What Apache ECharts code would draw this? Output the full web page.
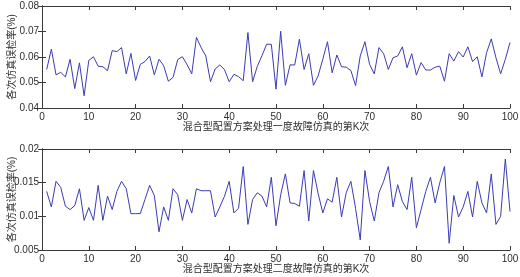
<!DOCTYPE html>
<html>
<head>
<meta charset="utf-8">
<script src="https://cdn.jsdelivr.net/npm/echarts@6/dist/echarts.min.js"></script>
<style>
html,body{margin:0;padding:0;background:#fff;}
#c{width:520px;height:277px;}
</style>
</head>
<body>
<div id="c"></div>
<script>
// Simulation run index (x values)
const runs = Array.from({length: 100}, (_, i) => i + 1);

// Top plot: first-degree fault, false detection rate (%)
const rateDegree1 = [
  0.0551,0.0631,0.0530,0.0540,0.0522,0.0591,0.0476,0.0577,0.0448,0.0587,
  0.0601,0.0564,0.0562,0.0546,0.0625,0.0621,0.0637,0.0534,0.0614,0.0508,
  0.0571,0.0582,0.0604,0.0530,0.0591,0.0566,0.0505,0.0520,0.0590,0.0601,
  0.0570,0.0534,0.0677,0.0637,0.0604,0.0503,0.0553,0.0569,0.0550,0.0503,
  0.0532,0.0523,0.0507,0.0696,0.0503,0.0563,0.0605,0.0650,0.0650,0.0474,
  0.0701,0.0489,0.0569,0.0569,0.0670,0.0551,0.0613,0.0489,0.0526,0.0591,
  0.0660,0.0538,0.0608,0.0562,0.0560,0.0547,0.0488,0.0604,0.0660,0.0571,
  0.0534,0.0637,0.0613,0.0551,0.0597,0.0604,0.0640,0.0558,0.0613,0.0529,
  0.0578,0.0549,0.0549,0.0560,0.0564,0.0505,0.0613,0.0584,0.0621,0.0600,
  0.0640,0.0582,0.0601,0.0522,0.0617,0.0671,0.0597,0.0534,0.0591,0.0657
];

// Bottom plot: second-degree fault, false detection rate (%)
const rateDegree2 = [
  0.0137,0.0114,0.0152,0.0143,0.0115,0.0110,0.0116,0.0141,0.0094,0.0113,
  0.0094,0.0146,0.0094,0.0130,0.0110,0.0137,0.0152,0.0141,0.0104,0.0104,
  0.0104,0.0125,0.0146,0.0131,0.0077,0.0114,0.0094,0.0141,0.0132,0.0094,
  0.0125,0.0105,0.0141,0.0138,0.0138,0.0138,0.0099,0.0114,0.0130,0.0152,
  0.0105,0.0112,0.0174,0.0088,0.0125,0.0135,0.0130,0.0114,0.0158,0.0086,
  0.0132,0.0163,0.0120,0.0119,0.0115,0.0168,0.0093,0.0168,0.0134,0.0105,
  0.0126,0.0121,0.0158,0.0099,0.0135,0.0152,0.0112,0.0065,0.0168,0.0122,
  0.0093,0.0135,0.0152,0.0174,0.0114,0.0147,0.0122,0.0110,0.0158,0.0083,
  0.0110,0.0137,0.0158,0.0120,0.0150,0.0174,0.0060,0.0131,0.0099,0.0114,
  0.0137,0.0099,0.0152,0.0120,0.0105,0.0163,0.0088,0.0100,0.0185,0.0107
];

// Tick labels
const xTickLabels = ['0','10','20','30','40','50','60','70','80','90','100'];
const yTickLabelsTop = ['0.04','0.05','0.06','0.07','0.08'];
const yTickLabelsBottom = ['0.005','0.01','0.015','0.02'];

// Texts
const xTitleTop = '混合型配置方案处理一度故障仿真的第K次';
const xTitleBottom = '混合型配置方案处理二度故障仿真的第K次';
const yTitle = '各次仿真误检率(%)';

const FONT = '"Liberation Sans", Arial, "Noto Sans CJK SC", sans-serif';
const AXIS_COLOR = '#3a3a3a';
const TEXT_COLOR = '#2e2e2e';
const LINE_COLOR = '#3c3cb4';

function pairs(ys) { return runs.map((x, i) => [x, ys[i]]); }

function xAxisMain(gi, title) {
  return {
    type: 'value', gridIndex: gi, min: 0, max: 100, interval: 10, position: 'bottom',
    axisLine: {show: true, lineStyle: {color: AXIS_COLOR, width: 1}},
    axisTick: {show: true, inside: true, length: 4, lineStyle: {color: AXIS_COLOR}},
    splitLine: {show: false},
    axisLabel: {color: TEXT_COLOR, fontSize: 10, fontFamily: FONT, margin: 4,
      formatter: v => xTickLabels[Math.round(v / 10)]},
    name: title, nameLocation: 'middle', nameGap: 14, nameMoveOverlap: false,
    nameTextStyle: {color: TEXT_COLOR, fontSize: 10, fontFamily: FONT}
  };
}
function xAxisTop(gi) {
  return {
    type: 'value', gridIndex: gi, min: 0, max: 100, interval: 10, position: 'top',
    axisLine: {show: true, lineStyle: {color: AXIS_COLOR, width: 1}},
    axisTick: {show: true, inside: true, length: 4, lineStyle: {color: AXIS_COLOR}},
    splitLine: {show: false}, axisLabel: {show: false}
  };
}
function yAxisMain(gi, min, max, interval, labels) {
  return {
    type: 'value', gridIndex: gi, min: min, max: max, interval: interval, position: 'left',
    axisLine: {show: true, lineStyle: {color: AXIS_COLOR, width: 1}},
    axisTick: {show: true, inside: true, length: 4, lineStyle: {color: AXIS_COLOR}},
    splitLine: {show: false},
    axisLabel: {color: TEXT_COLOR, fontSize: 10, fontFamily: FONT, margin: 3,
      formatter: v => labels[Math.round((v - min) / interval)]},
    name: yTitle, nameLocation: 'middle', nameGap: 25, nameRotate: 90, nameMoveOverlap: false,
    nameTextStyle: {color: TEXT_COLOR, fontSize: 10, fontFamily: FONT}
  };
}
function yAxisRight(gi, min, max, interval) {
  return {
    type: 'value', gridIndex: gi, min: min, max: max, interval: interval, position: 'right',
    axisLine: {show: true, lineStyle: {color: AXIS_COLOR, width: 1}},
    axisTick: {show: true, inside: true, length: 4, lineStyle: {color: AXIS_COLOR}},
    splitLine: {show: false}, axisLabel: {show: false}
  };
}

const chart = echarts.init(document.getElementById('c'), null, {renderer: 'canvas'});
chart.setOption({
  backgroundColor: '#ffffff',
  animation: false,
  grid: [
    {left: 42, top: 6, width: 468, height: 102, containLabel: false, outerBoundsMode: 'none'},
    {left: 42, top: 149, width: 468, height: 101, containLabel: false, outerBoundsMode: 'none'}
  ],
  xAxis: [xAxisMain(0, xTitleTop), xAxisTop(0), xAxisMain(1, xTitleBottom), xAxisTop(1)],
  yAxis: [
    yAxisMain(0, 0.04, 0.08, 0.01, yTickLabelsTop), yAxisRight(0, 0.04, 0.08, 0.01),
    yAxisMain(1, 0.005, 0.02, 0.005, yTickLabelsBottom), yAxisRight(1, 0.005, 0.02, 0.005)
  ],
  series: [
    {type: 'line', xAxisIndex: 0, yAxisIndex: 0, data: pairs(rateDegree1), symbol: 'none',
     lineStyle: {color: LINE_COLOR, width: 1}},
    {type: 'line', xAxisIndex: 2, yAxisIndex: 2, data: pairs(rateDegree2), symbol: 'none',
     lineStyle: {color: LINE_COLOR, width: 1}}
  ]
});
</script>
</body>
</html>
